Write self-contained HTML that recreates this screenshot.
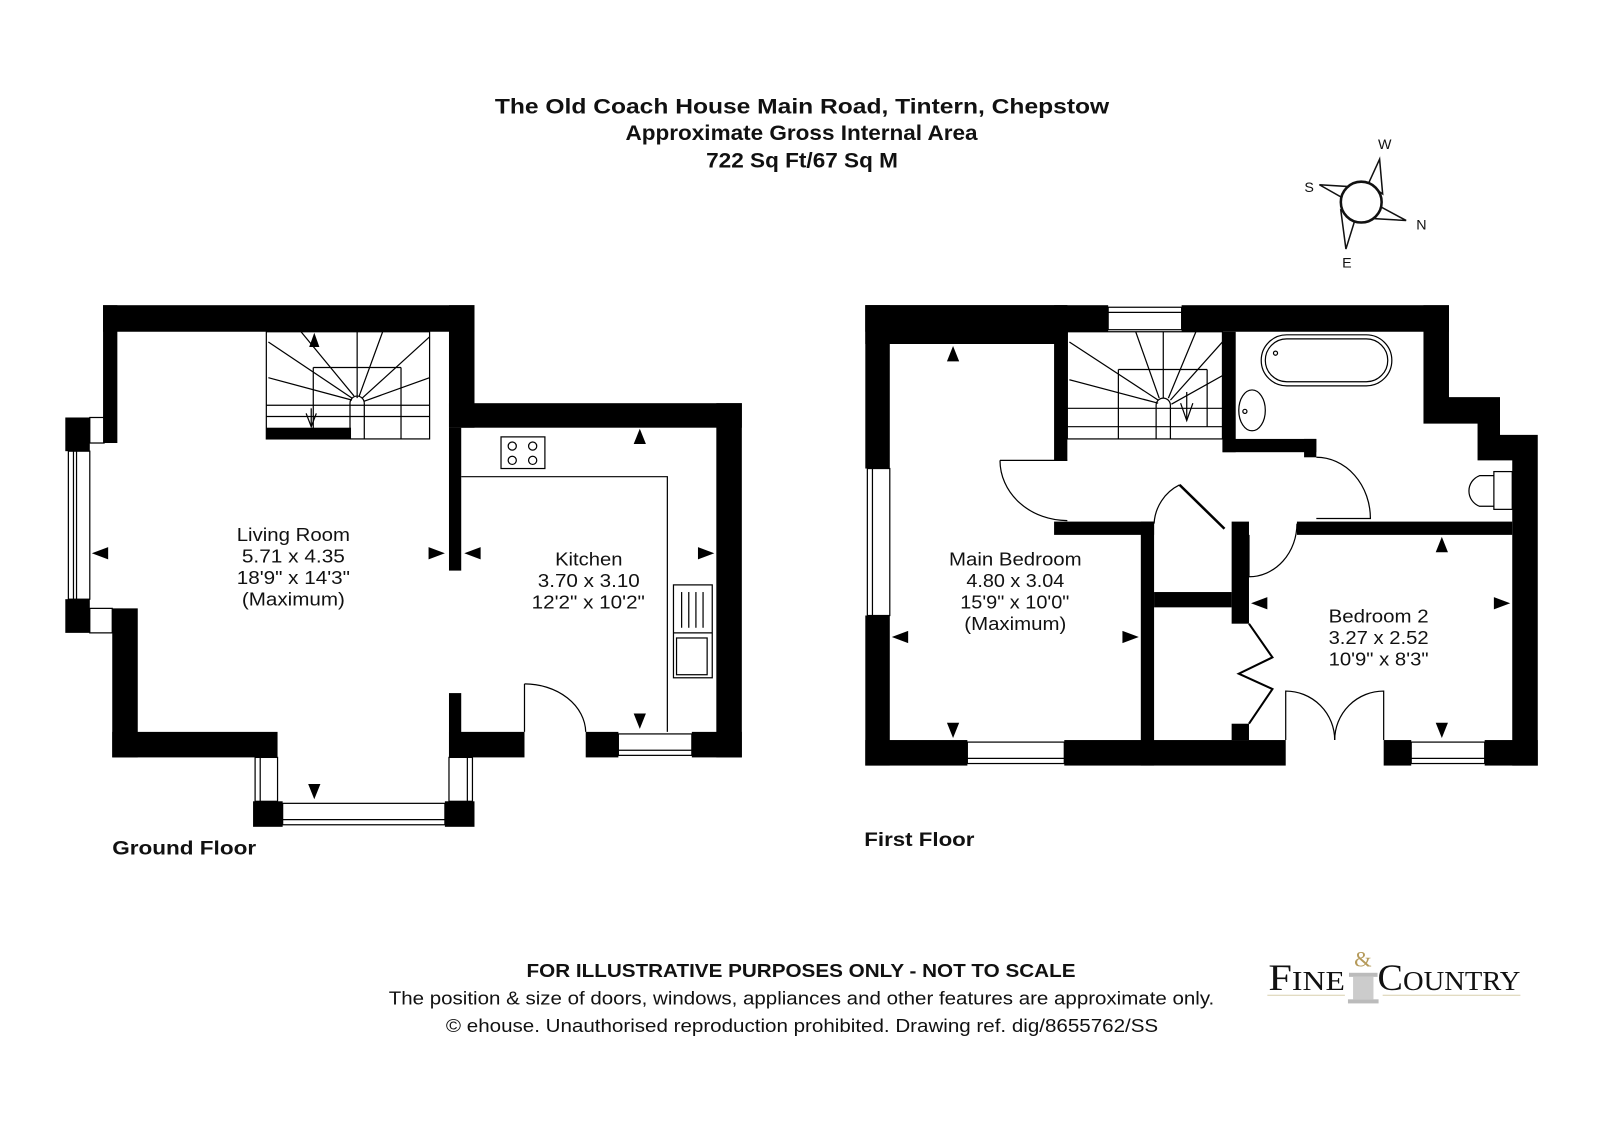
<!DOCTYPE html>
<html><head><meta charset="utf-8"><style>
html,body{margin:0;padding:0;background:#fff;width:1600px;height:1131px;overflow:hidden}
svg{display:block}
text{font-family:"Liberation Sans",Arial,sans-serif;fill:#111}
</style></head><body>
<svg width="1600" height="1131" viewBox="0 0 1568 1108" preserveAspectRatio="none" xmlns="http://www.w3.org/2000/svg">
<rect width="1568" height="1108" fill="#fff"/>
<!-- Title -->
<g font-weight="bold" font-size="21" lengthAdjust="spacingAndGlyphs">
<text x="485" y="111" textLength="602" lengthAdjust="spacingAndGlyphs">The Old Coach House Main Road, Tintern, Chepstow</text>
<text x="613" y="137" textLength="345" lengthAdjust="spacingAndGlyphs">Approximate Gross Internal Area</text>
<text x="692" y="164" textLength="188" lengthAdjust="spacingAndGlyphs">722 Sq Ft/67 Sq M</text>
</g>
<!-- Compass -->
<g stroke="#111" stroke-width="1.5" fill="#fff">
<polygon points="1352,156 1355,190 1341,180"/>
<polygon points="1378,216 1343,214 1352,202"/>
<polygon points="1319,244 1314,206 1328,215"/>
<polygon points="1293,181 1326,183 1316,194"/>
<circle cx="1334" cy="198" r="20" stroke-width="2.5"/>
</g>
<g font-size="14" text-anchor="middle">
<text x="1357" y="146">W</text><text x="1283" y="188">S</text>
<text x="1393" y="225">N</text><text x="1320" y="262">E</text>
</g>

<!-- GROUND FLOOR -->
<g fill="#000">
<rect x="101" y="299" width="364" height="26"/>
<rect x="101" y="299" width="14" height="135"/>
<rect x="440" y="299" width="25" height="120"/>
<rect x="440" y="395" width="287" height="24"/>
<rect x="702" y="395" width="25" height="347"/>
<rect x="440" y="419" width="12" height="140"/>
<rect x="440" y="679" width="12" height="63"/>
<rect x="440" y="717" width="74" height="25"/>
<rect x="574" y="717" width="32" height="25"/>
<rect x="678" y="717" width="49" height="25"/>
<rect x="64" y="409" width="24" height="33"/>
<rect x="64" y="587" width="24" height="33"/>
<rect x="110" y="596" width="25" height="146"/>
<rect x="110" y="717" width="162" height="25"/>
<rect x="248" y="785" width="29" height="25"/>
<rect x="436" y="785" width="29" height="25"/>
<rect x="261" y="419" width="83" height="11"/>
</g>
<g fill="none" stroke="#000" stroke-width="1.2">
<rect x="67" y="442" width="21" height="145"/><line x1="72" y1="442" x2="72" y2="587"/><line x1="75" y1="442" x2="75" y2="587"/>
<rect x="88" y="409" width="14" height="25"/><rect x="88" y="596" width="22" height="24"/>
<rect x="250" y="742" width="22" height="43"/><line x1="255" y1="742" x2="255" y2="785"/>
<rect x="440" y="742" width="23" height="43"/><line x1="458" y1="742" x2="458" y2="785"/>
<rect x="277" y="787" width="159" height="21"/><line x1="277" y1="803" x2="436" y2="803"/>
<rect x="606" y="719" width="72" height="21"/><line x1="606" y1="735" x2="678" y2="735"/>
<rect x="261" y="325" width="160" height="105"/>
<line x1="261" y1="397" x2="421" y2="397"/><line x1="261" y1="408" x2="421" y2="408"/>
<line x1="307" y1="360" x2="307" y2="430"/><line x1="307" y1="360" x2="393" y2="360"/><line x1="393" y1="360" x2="393" y2="430"/>
<line x1="350" y1="325" x2="350" y2="390"/><line x1="263" y1="335" x2="345" y2="390"/><line x1="263" y1="370" x2="345" y2="392"/>
<line x1="295" y1="325" x2="347" y2="388"/><line x1="375" y1="325" x2="352" y2="388"/><line x1="421" y1="330" x2="355" y2="390"/><line x1="421" y1="370" x2="357" y2="393"/>
<path d="M343 430 V395 A7 7 0 0 1 357 395 V430"/>
<line x1="305" y1="400" x2="305" y2="418"/><path d="M300 405 L305 418 L310 405"/>
<polyline points="452,467 654,467 654,717"/>
<rect x="491" y="428" width="43" height="31"/>
<circle cx="502" cy="437" r="4"/><circle cx="522" cy="437" r="4"/><circle cx="502" cy="451" r="4"/><circle cx="522" cy="451" r="4"/>
<rect x="660" y="573" width="38" height="91"/><line x1="660" y1="620" x2="698" y2="620"/>
<rect x="663" y="625" width="30" height="36"/>
<line x1="668" y1="580" x2="668" y2="615"/><line x1="675" y1="580" x2="675" y2="615"/><line x1="682" y1="580" x2="682" y2="615"/><line x1="689" y1="580" x2="689" y2="615"/>
<line x1="514" y1="717" x2="514" y2="670"/><path d="M514 670 A60 48 0 0 1 574 717"/>
</g>
<g fill="#000">
<polygon points="308,326 303,340 313,340"/>
<polygon points="90,542 106,536 106,548"/>
<polygon points="436,542 420,536 420,548"/>
<polygon points="455,542 471,536 471,548"/>
<polygon points="700,542 684,536 684,548"/>
<polygon points="627,420 621,435 633,435"/>
<polygon points="627,714 621,699 633,699"/>
<polygon points="308,783 302,768 314,768"/>
</g>
<g font-size="18">
<text x="232" y="530" textLength="111" lengthAdjust="spacingAndGlyphs">Living Room</text>
<text x="237" y="551" textLength="101" lengthAdjust="spacingAndGlyphs">5.71 x 4.35</text>
<text x="232" y="572" textLength="111" lengthAdjust="spacingAndGlyphs">18'9" x 14'3"</text>
<text x="237" y="593" textLength="101" lengthAdjust="spacingAndGlyphs">(Maximum)</text>
<text x="544" y="554" textLength="66" lengthAdjust="spacingAndGlyphs">Kitchen</text>
<text x="527" y="575" textLength="100" lengthAdjust="spacingAndGlyphs">3.70 x 3.10</text>
<text x="521" y="596" textLength="111" lengthAdjust="spacingAndGlyphs">12'2" x 10'2"</text>
</g>
<text x="110" y="837" font-size="19" font-weight="bold" textLength="141" lengthAdjust="spacingAndGlyphs">Ground Floor</text>

<!-- FIRST FLOOR -->
<g fill="#000">
<rect x="848" y="299" width="238" height="26"/>
<rect x="1158" y="299" width="262" height="26"/>
<rect x="848" y="299" width="198" height="38"/>
<rect x="848" y="299" width="24" height="160"/>
<rect x="848" y="603" width="24" height="147"/>
<rect x="1033" y="299" width="13" height="152"/>
<rect x="1033" y="511" width="98" height="13"/>
<rect x="1118" y="511" width="13" height="239"/>
<rect x="1207" y="511" width="17" height="100"/>
<rect x="1131" y="580" width="76" height="15"/>
<rect x="1207" y="709" width="17" height="16"/>
<rect x="848" y="725" width="100" height="25"/>
<rect x="1043" y="725" width="217" height="25"/>
<rect x="1356" y="725" width="27" height="25"/>
<rect x="1455" y="725" width="52" height="25"/>
<rect x="1198" y="325" width="13" height="118"/>
<rect x="1198" y="430" width="92" height="13"/>
<rect x="1278" y="430" width="12" height="18"/>
<rect x="1271" y="511" width="211" height="13"/>
<polygon points="1395,299 1420,299 1420,389 1470,389 1470,426 1507,426 1507,750 1482,750 1482,451 1448,451 1448,415 1395,415"/>
</g>
<g fill="none" stroke="#000" stroke-width="1.2">
<rect x="1086" y="301" width="72" height="22"/><line x1="1086" y1="306" x2="1158" y2="306"/>
<rect x="850" y="459" width="22" height="144"/><line x1="855" y1="459" x2="855" y2="603"/>
<rect x="948" y="727" width="95" height="21"/><line x1="948" y1="743" x2="1043" y2="743"/>
<rect x="1383" y="727" width="72" height="21"/><line x1="1383" y1="743" x2="1455" y2="743"/>
<rect x="1046" y="325" width="152" height="105"/>
<line x1="1046" y1="400" x2="1198" y2="400"/><line x1="1046" y1="418" x2="1198" y2="418"/>
<line x1="1096" y1="362" x2="1096" y2="430"/><line x1="1096" y1="362" x2="1183" y2="362"/><line x1="1183" y1="362" x2="1183" y2="418"/>
<line x1="1140" y1="325" x2="1140" y2="390"/>
<line x1="1048" y1="335" x2="1135" y2="392"/><line x1="1048" y1="372" x2="1135" y2="395"/>
<line x1="1113" y1="325" x2="1136" y2="390"/><line x1="1172" y1="325" x2="1145" y2="390"/>
<line x1="1198" y1="335" x2="1147" y2="392"/><line x1="1198" y1="368" x2="1148" y2="396"/>
<path d="M1133 430 V397 A7 7 0 0 1 1147 397 V430"/>
<line x1="1163" y1="384" x2="1163" y2="412"/><path d="M1157 395 L1163 412 L1169 395"/>
<rect x="1236" y="328" width="128" height="50" rx="25"/>
<rect x="1240" y="332" width="120" height="42" rx="21"/>
<circle cx="1250" cy="346" r="2"/>
<ellipse cx="1227" cy="402" rx="13" ry="20"/><circle cx="1220" cy="403" r="2"/>
<rect x="1464" y="462" width="18" height="37"/>
<path d="M1464 466 H1450 A16 16 0 0 0 1450 496 H1464"/>
<path d="M980 451 A66 59 0 0 0 1046 510"/><line x1="980" y1="451" x2="1046" y2="451"/>
<path d="M1290 448 A53 60 0 0 1 1343 508 H1290"/>
<line x1="1156" y1="475" x2="1200" y2="518" stroke-width="2.5"/><path d="M1156 475 A45 45 0 0 0 1131 513"/>
<line x1="1224" y1="524" x2="1224" y2="565"/><path d="M1224 565 A47 52 0 0 0 1271 513"/>
<polyline points="1224,611 1247,644 1214,660 1247,675 1224,709" stroke-width="2"/>
<path d="M1260 725 V677 A48 48 0 0 1 1308 725"/>
<path d="M1356 725 V677 A48 48 0 0 0 1308 725"/>
</g>
<g fill="#000">
<polygon points="934,339 928,354 940,354"/>
<polygon points="934,723 928,708 940,708"/>
<polygon points="874,624 890,618 890,630"/>
<polygon points="1116,624 1100,618 1100,630"/>
<polygon points="1413,526 1407,541 1419,541"/>
<polygon points="1413,723 1407,708 1419,708"/>
<polygon points="1226,591 1242,585 1242,597"/>
<polygon points="1480,591 1464,585 1464,597"/>
</g>
<g font-size="18">
<text x="930" y="554" textLength="130" lengthAdjust="spacingAndGlyphs">Main Bedroom</text>
<text x="947" y="575" textLength="96" lengthAdjust="spacingAndGlyphs">4.80 x 3.04</text>
<text x="941" y="596" textLength="107" lengthAdjust="spacingAndGlyphs">15'9" x 10'0"</text>
<text x="945" y="617" textLength="100" lengthAdjust="spacingAndGlyphs">(Maximum)</text>
<text x="1302" y="610" textLength="98" lengthAdjust="spacingAndGlyphs">Bedroom 2</text>
<text x="1302" y="631" textLength="98" lengthAdjust="spacingAndGlyphs">3.27 x 2.52</text>
<text x="1302" y="652" textLength="98" lengthAdjust="spacingAndGlyphs">10'9" x 8'3"</text>
</g>
<text x="847" y="829" font-size="19" font-weight="bold" textLength="108" lengthAdjust="spacingAndGlyphs">First Floor</text>

<!-- Footer -->
<g font-size="18">
<text x="516" y="957" font-weight="bold" textLength="538" lengthAdjust="spacingAndGlyphs">FOR ILLUSTRATIVE PURPOSES ONLY - NOT TO SCALE</text>
<text x="381" y="984" textLength="809" lengthAdjust="spacingAndGlyphs">The position &amp; size of doors, windows, appliances and other features are approximate only.</text>
<text x="437" y="1011" textLength="698" lengthAdjust="spacingAndGlyphs">© ehouse. Unauthorised reproduction prohibited. Drawing ref. dig/8655762/SS</text>
</g>
<!-- Logo -->
<g>
<text x="1243" y="970" style="font-family:'Liberation Serif',serif" font-size="36" textLength="75" lengthAdjust="spacingAndGlyphs">F<tspan font-size="27">INE</tspan></text>
<text x="1350" y="970" style="font-family:'Liberation Serif',serif" font-size="36" textLength="140" lengthAdjust="spacingAndGlyphs">C<tspan font-size="27">OUNTRY</tspan></text>
<text x="1327" y="947" style="font-family:'Liberation Serif',serif;fill:#b59a5a" font-size="22">&amp;</text>
<rect x="1322" y="953" width="28" height="4" fill="#bbb"/>
<rect x="1326" y="957" width="20" height="22" fill="#ccc"/>
<rect x="1321" y="979" width="30" height="4" fill="#bbb"/>
<line x1="1242" y1="975" x2="1318" y2="975" stroke="#d8cfae" stroke-width="1"/>
<line x1="1355" y1="975" x2="1490" y2="975" stroke="#d8cfae" stroke-width="1"/>
</g>
</svg>
</body></html>
